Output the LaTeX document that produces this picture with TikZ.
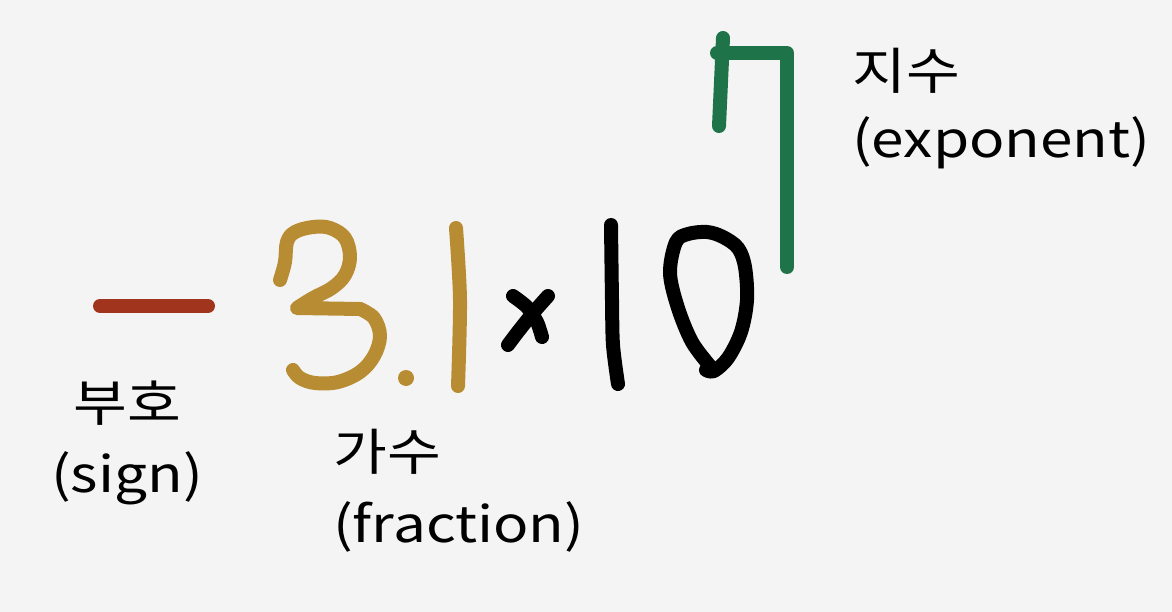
\documentclass[tikz,border=0pt]{standalone}
\usepackage{fontspec}
\setmainfont{Noto Sans CJK KR}[FakeStretch=1.17]
\definecolor{bg}{HTML}{F4F4F4}
\definecolor{signc}{HTML}{A0341C}
\definecolor{fracc}{HTML}{B88C32}
\definecolor{expc}{HTML}{1F7349}
\tikzset{
  pen/.style={line width=14pt, line cap=round, line join=round},
  lbl/.style={inner sep=0pt, font=\fontsize{50}{60}\selectfont, text=black},
}
\begin{document}
\begin{tikzpicture}[x=1pt,y=-1pt]
\fill[bg] (0,0) rectangle (1172,612);
\useasboundingbox (0,0) rectangle (1172,612);
% sign
\draw[pen, signc] (100,306) -- (208,306);
% 3
\draw[pen, fracc] plot[smooth, tension=0.6] coordinates {(280,280) (285,262) (287,242) (295,232) (313,227) (330,228) (345,238) (350,257) (345,275) (332,288) (313,298) (297,308)}
  -- (360,309);
\draw[pen, fracc] plot[smooth, tension=0.6] coordinates {(360,309) (374,318) (380,336) (374,356) (360,372) (338,382) (315,383) (300,378) (293,370)};
% dot
\fill[fracc] (406,378) circle (8pt);
% 1 gold
\draw[pen, fracc] plot[smooth] coordinates {(456,228) (460,300) (458,386)};
% x
\draw[pen, black] plot[smooth] coordinates {(513,296) (527,307) (537,322) (542,337)};
\draw[pen, black] plot[smooth] coordinates {(548,296) (533,313) (517,333) (508,345)};
% 1 black
\draw[pen, black] plot[smooth] coordinates {(611,225) (612,300) (613,345) (618,384)};
% 0
\draw[pen, black] plot[smooth, tension=0.55] coordinates {(710,366) (692,342) (678,308) (670,273) (676,242) (688,234) (707,232) (723,237) (738,248) (745,267) (747,300) (741,332) (728,358) (714,371) (706,370)};
% exponent 7
\draw[pen, expc] (723,38) -- (719,126);
\draw[pen, expc] (717,53) -- (787,53) -- (787,267);
% labels
\node[lbl, anchor=base west] (e1) at (852,90) {지수};
\node[lbl, anchor=base west] (e2) at (852,158) {(exponent)};
\node[lbl, anchor=base] (s1) at (127,421) {부호};
\node[lbl, anchor=base] (s2) at (127,492) {(sign)};
\node[lbl, anchor=base west] (f1) at (333,470) {가수};
\node[lbl, anchor=base west] (f2) at (333,542) {(fraction)};
\end{tikzpicture}
\end{document}
